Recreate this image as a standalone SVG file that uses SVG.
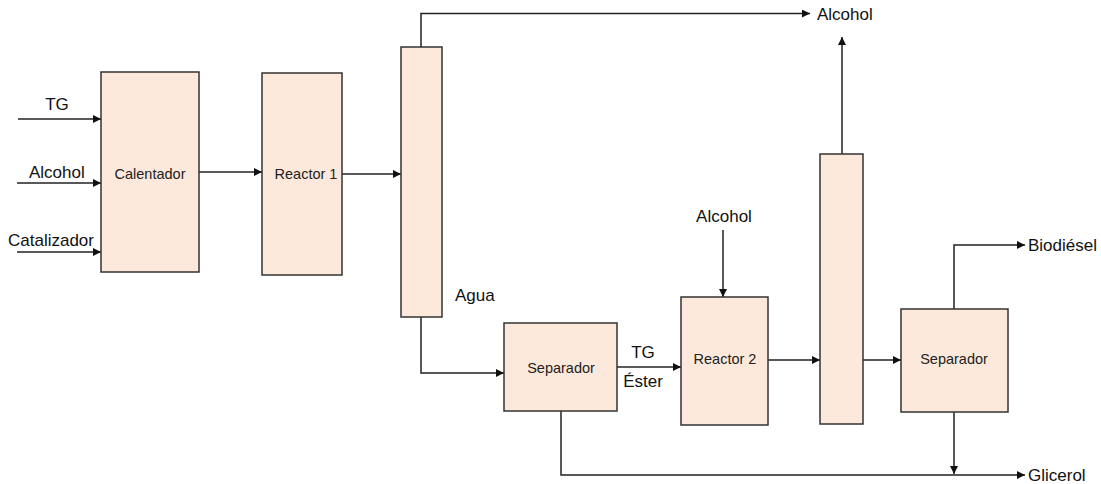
<svg xmlns="http://www.w3.org/2000/svg" width="1101" height="484" viewBox="0 0 1101 484">
<style>
.box{fill:#fde9db;stroke:#333;stroke-width:1.5}
.ln{fill:none;stroke:#222;stroke-width:1.5}
.t{font-family:"Liberation Sans",Arial,sans-serif;font-size:14.5px;fill:#222;text-anchor:middle}
.l{font-family:"Liberation Sans",Arial,sans-serif;font-size:17px;fill:#111}
</style>
<defs>
<marker id="ah" viewBox="0 0 10 10" refX="10" refY="5" markerWidth="8" markerHeight="8" markerUnits="userSpaceOnUse" orient="auto">
<path d="M0,0 L10,5 L0,10 z" fill="#111"/>
</marker>
</defs>
<rect width="1101" height="484" fill="#fff"/>
<g id="connectors">
<path class="ln" d="M18,119 H101" marker-end="url(#ah)"/>
<path class="ln" d="M17,183 H101" marker-end="url(#ah)"/>
<path class="ln" d="M17,252 H101" marker-end="url(#ah)"/>
<path class="ln" d="M199,172 H262" marker-end="url(#ah)"/>
<path class="ln" d="M342,174 H401" marker-end="url(#ah)"/>
<path class="ln" d="M421,47 V13.5 H810" marker-end="url(#ah)"/>
<path class="ln" d="M421,317 V373 H504" marker-end="url(#ah)"/>
<path class="ln" d="M617,367 H681" marker-end="url(#ah)"/>
<path class="ln" d="M723,230 V297" marker-end="url(#ah)"/>
<path class="ln" d="M768,360 H820" marker-end="url(#ah)"/>
<path class="ln" d="M842,154 V37" marker-end="url(#ah)"/>
<path class="ln" d="M863,360 H901" marker-end="url(#ah)"/>
<path class="ln" d="M954,309 V245 H1025" marker-end="url(#ah)"/>
<path class="ln" d="M954,412 V474" marker-end="url(#ah)"/>
<path class="ln" d="M561,411 V475 H1025" marker-end="url(#ah)"/>
</g>
<g id="calentador"><rect class="box" x="101" y="72" width="98" height="200"/><text class="t" x="150" y="178.5">Calentador</text></g>
<g id="reactor1"><rect class="box" x="262" y="73" width="80" height="202"/><text class="t" x="306" y="178.5">Reactor 1</text></g>
<g id="columna1"><rect class="box" x="401" y="47" width="41" height="270"/></g>
<g id="separador1"><rect class="box" x="504" y="323" width="113" height="88"/><text class="t" x="561" y="373">Separador</text></g>
<g id="reactor2"><rect class="box" x="681" y="297" width="87" height="128"/><text class="t" x="725" y="364">Reactor 2</text></g>
<g id="columna2"><rect class="box" x="820" y="154" width="43" height="270"/></g>
<g id="separador2"><rect class="box" x="901" y="309" width="107" height="103"/><text class="t" x="954" y="363.5">Separador</text></g>
<g id="labels">
<text class="l" x="57" y="110" text-anchor="middle">TG</text>
<text class="l" x="29" y="178">Alcohol</text>
<text class="l" x="8" y="246">Catalizador</text>
<text class="l" x="817" y="20">Alcohol</text>
<text class="l" x="455" y="300.5">Agua</text>
<text class="l" x="643" y="358" text-anchor="middle">TG</text>
<text class="l" x="643" y="386.5" text-anchor="middle">Éster</text>
<text class="l" x="724" y="222" text-anchor="middle">Alcohol</text>
<text class="l" x="1028" y="251">Biodiésel</text>
<text class="l" x="1028" y="481">Glicerol</text>
</g>
</svg>
